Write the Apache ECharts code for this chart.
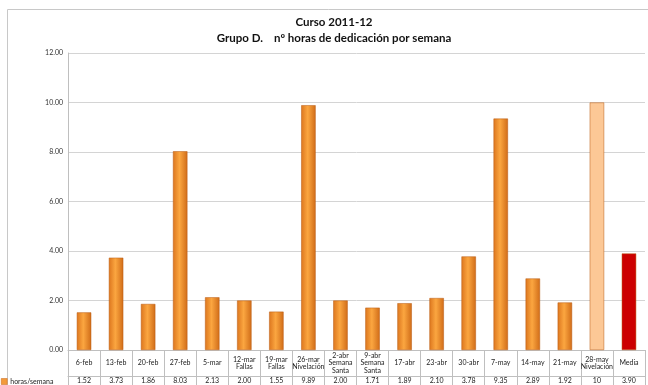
<!DOCTYPE html>
<html>
<head>
<meta charset="utf-8">
<script src="https://cdn.jsdelivr.net/npm/echarts@6/dist/echarts.min.js"></script>
<style>
  html, body { margin: 0; padding: 0; background: #fff; }
  #chart { width: 648px; height: 385px; }
</style>
</head>
<body>
<div id="chart"></div>
<script>
const categories = ['6-feb', '13-feb', '20-feb', '27-feb', '5-mar', '12-mar\nFallas', '19-mar\nFallas',
  '26-mar\nNivelación', '2-abr\nSemana\nSanta', '9-abr\nSemana\nSanta', '17-abr', '23-abr', '30-abr',
  '7-may', '14-may', '21-may', '28-may\nNivelación', 'Media'];
const horas = [1.52, 3.73, 1.86, 8.03, 2.13, 2.00, 1.55, 9.89, 2.00, 1.71, 1.89, 2.10, 3.78, 9.35, 2.89, 1.92, 10, 3.90];
const tableLabels = ['1.52', '3.73', '1.86', '8.03', '2.13', '2.00', '1.55', '9.89', '2.00', '1.71', '1.89', '2.10',
  '3.78', '9.35', '2.89', '1.92', '10', '3.90'];
const yTicks = [0, 2, 4, 6, 8, 10, 12];

const chart = echarts.init(document.getElementById('chart'));
const orange = new echarts.graphic.LinearGradient(0, 0, 1, 0, [
  { offset: 0, color: '#dc761e' },
  { offset: 0.45, color: '#fba640' },
  { offset: 1, color: '#d06c18' },
]);
const font = 'Lato, "Open Sans", sans-serif';

chart.setOption({
  animation: false,
  textStyle: { fontFamily: font },
  title: {
    text: 'Curso 2011-12\nGrupo D.    nº horas de dedicación por semana',
    left: 329,
    textAlign: 'center',
    top: 9,
    textStyle: { fontSize: 11.5, fontWeight: 'bold', color: '#111', lineHeight: 16, fontFamily: font },
  },
  legend: {
    left: 1,
    top: 378,
    padding: 0,
    itemWidth: 6,
    itemHeight: 6,
    itemGap: 2,
    icon: 'rect',
    textStyle: { fontSize: 7, color: '#222', padding: [0, 0, 0, -2] },
    data: [{ name: 'horas/semana', itemStyle: { color: '#f39a3a', borderColor: '#c86414', borderWidth: 0.5 } }],
  },
  graphic: [
    {
      type: 'rect',
      shape: { x: 7.5, y: 9.5, width: 700, height: 400 },
      style: { fill: 'none', stroke: '#c8c8c8', lineWidth: 1 },
      silent: true,
    },
  ],
  grid: { left: 68, right: 3, top: 53, bottom: 35 },
  xAxis: [
    {
      type: 'category',
      data: categories,
      axisLine: { lineStyle: { color: '#bfbfbf' } },
      axisTick: { show: true, length: 35, lineStyle: { color: '#bfbfbf' } },
      axisLabel: {
        interval: 0,
        fontSize: 7,
        lineHeight: 7.5,
        color: '#222',
        verticalAlign: 'middle',
        margin: 13,
      },
    },
    {
      type: 'category',
      data: categories,
      position: 'bottom',
      offset: 26,
      axisLine: { lineStyle: { color: '#bfbfbf' } },
      axisTick: { show: false },
      axisLabel: {
        interval: 0,
        fontSize: 7,
        color: '#222',
        verticalAlign: 'middle',
        margin: 5,
        formatter: (v, i) => tableLabels[i],
      },
    },
  ],
  yAxis: {
    type: 'value',
    min: yTicks[0],
    max: yTicks[yTicks.length - 1],
    interval: 2,
    axisLine: { show: true, lineStyle: { color: '#bfbfbf' } },
    axisTick: { show: false },
    axisLabel: { fontSize: 7, color: '#333', margin: 5, formatter: v => v.toFixed(2) },
    splitLine: { lineStyle: { color: '#d4d4d4' } },
  },
  series: [
    {
      name: 'horas/semana',
      type: 'bar',
      xAxisIndex: 0,
      barWidth: '45%',
      data: horas,
      itemStyle: {
        color: p => p.dataIndex === 16 ? '#fcc896' : p.dataIndex === 17 ? '#cc0000' : orange,
        borderColor: '#b85a12',
        borderWidth: 0.5,
      },
    },
  ],
});
</script>
</body>
</html>
